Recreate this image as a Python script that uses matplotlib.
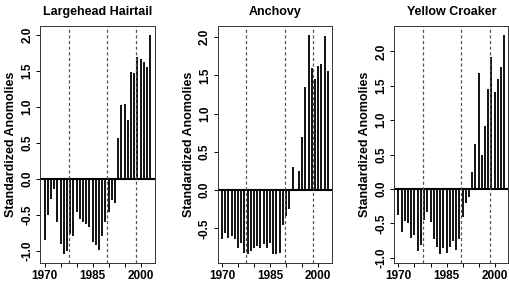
import numpy as np
import matplotlib
matplotlib.use("Agg")
import matplotlib.pyplot as plt

plt.rcParams['font.family'] = ['Liberation Sans', 'DejaVu Sans']
plt.rcParams['font.weight'] = 'bold'

# years of the series
years = list(range(1970, 2004))

# standardized anomalies
hairtail = [-0.85, -0.50, -0.28, -0.14, -0.60, -0.90, -1.05, -1.00, -0.77, -0.79,
            -0.46, -0.56, -0.60, -0.63, -0.67, -0.88, -0.92, -0.99, -0.80, -0.60,
            -0.46, -0.29, -0.33, 0.56, 1.02, 1.04, 0.82, 1.48, 1.47, 1.69,
            1.67, 1.62, 1.55, 2.00]
anchovy = [-0.64, -0.56, -0.62, -0.60, -0.64, -0.75, -0.69, -0.82, -0.84, -0.80,
           -0.75, -0.73, -0.75, -0.71, -0.75, -0.69, -0.83, -0.83, -0.82, -0.45,
           -0.34, -0.25, 0.30, 0.01, 0.25, 0.70, 1.35, 2.03, 1.60, 1.45,
           1.62, 1.65, 2.02, 1.56]
croaker = [-0.38, -0.63, -0.46, -0.49, -0.71, -0.67, -0.90, -0.82, -0.45, -0.33,
           -0.48, -0.73, -0.84, -0.95, -0.86, -0.93, -0.84, -0.75, -0.88, -0.72,
           -0.40, -0.20, -0.12, 0.24, 0.65, 1.69, 0.49, 0.92, 1.46, 1.92,
           1.41, 1.60, 1.77, 2.24]

titles = ["Largehead Hairtail", "Anchovy", "Yellow Croaker"]
series = [hairtail, anchovy, croaker]
yticks = [np.arange(-1.0, 2.01, 0.5), np.arange(-0.5, 2.01, 0.5), np.arange(-1.0, 2.01, 0.5)]
shifts = [1977.5, 1989.5, 1998.5]

xtick_pos = list(range(1970, 2001, 5))
xtick_lab = ['1970', '', '', '1985', '', '', '2000']

fig = plt.figure(figsize=(5.1, 2.83), dpi=100)
lefts = [0.079, 0.427, 0.773]

for i in range(3):
    ax = fig.add_axes([lefts[i], 0.07, 0.224, 0.838])
    vals = series[i]
    ax.vlines(years, 0, vals, color='#111111', linewidth=1.4)
    ax.axhline(0, color='black', linewidth=1.5)
    for s in shifts:
        ax.axvline(s, color='#555555', linewidth=0.9, dashes=(2.5, 2.0))

    # R style 4% padding
    xr = years[-1] - years[0]
    ax.set_xlim(years[0] - 0.04 * xr, years[-1] + 0.04 * xr)
    lo, hi = min(vals), max(vals)
    ax.set_ylim(lo - 0.04 * (hi - lo), hi + 0.04 * (hi - lo))

    ax.set_xticks(xtick_pos)
    ax.set_xticklabels(xtick_lab, fontsize=8.5, fontweight='bold')
    ax.set_yticks(yticks[i])
    ax.set_yticklabels(["%.1f" % v for v in yticks[i]], fontsize=8.5,
                       fontweight='bold', rotation=90, va='center')
    ax.tick_params(length=3, width=0.7, pad=2)
    for sp in ax.spines.values():
        sp.set_linewidth(0.7)
        sp.set_color('#333333')
    ax.set_title(titles[i], fontsize=9, fontweight='bold', pad=8)
    ax.set_ylabel("Standardized Anomolies", fontsize=9, fontweight='bold', labelpad=3)

fig.savefig("out.png", dpi=100)
